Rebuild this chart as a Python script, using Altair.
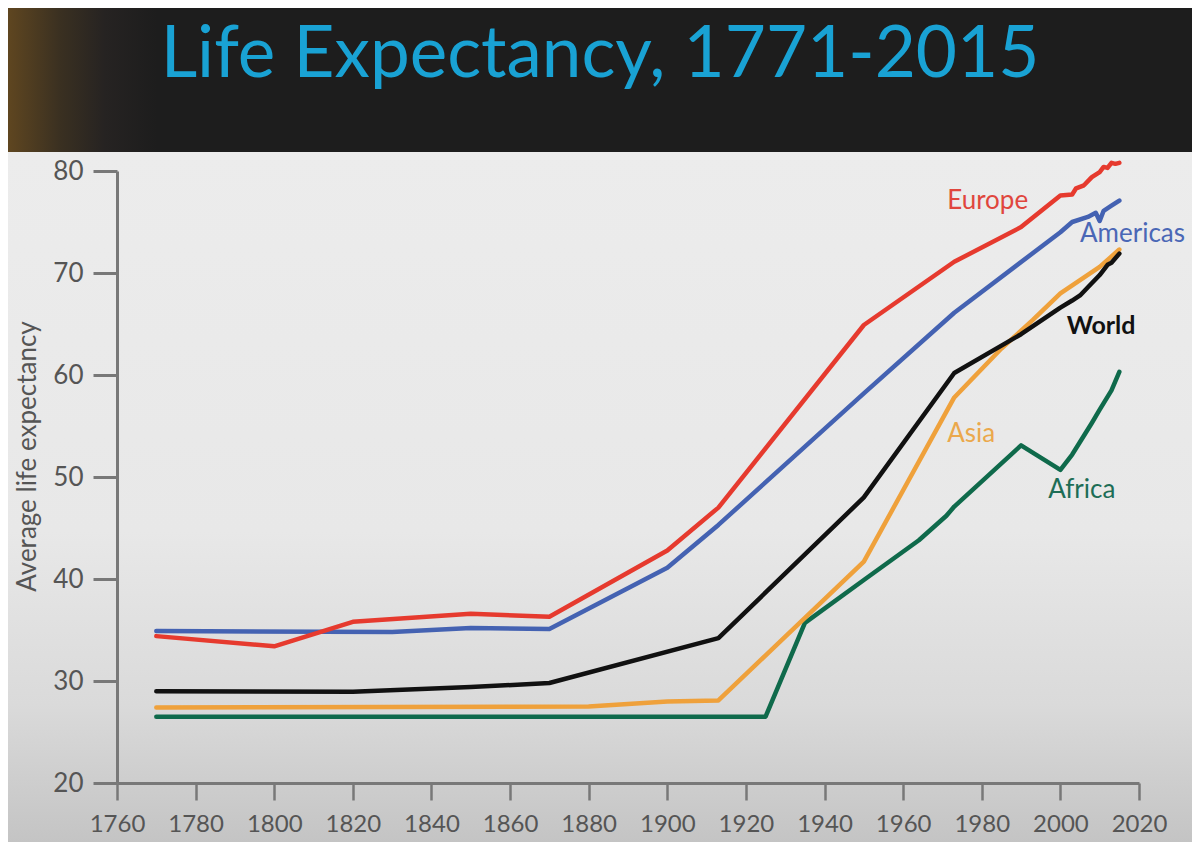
import altair as alt
import pandas as pd

# ---- data ----
europe_years = [1770, 1800, 1820, 1850, 1870, 1900, 1913, 1950, 1973, 1990, 2000, 2003, 2004, 2006, 2008, 2010, 2011, 2012, 2013, 2014, 2015]
europe_vals = [34.4, 33.4, 35.8, 36.6, 36.3, 42.8, 47.0, 64.9, 71.1, 74.5, 77.6, 77.7, 78.3, 78.6, 79.4, 79.9, 80.4, 80.3, 80.8, 80.7, 80.8]

americas_years = [1770, 1830, 1850, 1870, 1900, 1913, 1950, 1973, 2000, 2003, 2007, 2009, 2010, 2011, 2013, 2015]
americas_vals = [34.9, 34.8, 35.2, 35.1, 41.1, 45.3, 58.2, 66.1, 74.0, 75.0, 75.5, 75.9, 75.1, 76.1, 76.6, 77.1]

world_years = [1770, 1820, 1850, 1870, 1913, 1950, 1973, 1990, 2000, 2003, 2005, 2007, 2010, 2012, 2013, 2015]
world_vals = [29.0, 28.95, 29.4, 29.8, 34.2, 48.0, 60.2, 64.0, 66.6, 67.3, 67.8, 68.6, 69.8, 70.8, 71.0, 71.9]

asia_years = [1770, 1880, 1900, 1913, 1950, 1973, 1985, 1993, 2000, 2010, 2015]
asia_vals = [27.4, 27.5, 28.0, 28.1, 41.7, 57.8, 62.6, 65.4, 68.0, 70.6, 72.3]

africa_years = [1770, 1925, 1935, 1950, 1964, 1971, 1973, 1990, 2000, 2003, 2008, 2010, 2013, 2015]
africa_vals = [26.5, 26.5, 35.7, 39.9, 43.8, 46.2, 47.1, 53.1, 50.7, 52.2, 55.3, 56.6, 58.5, 60.3]

series_names = ["Africa", "Asia", "World", "Americas", "Europe"]  # drawing order
series_colors = {
    "Europe": "#e63a2e",
    "Americas": "#4462b2",
    "World": "#111111",
    "Asia": "#efa13b",
    "Africa": "#0f6a4b",
}
label_colors = {
    "Europe": "#e0463d",
    "Americas": "#4a67b6",
    "World": "#111111",
    "Asia": "#eba84c",
    "Africa": "#1d6d56",
}
series_data = {
    "Europe": (europe_years, europe_vals),
    "Americas": (americas_years, americas_vals),
    "World": (world_years, world_vals),
    "Asia": (asia_years, asia_vals),
    "Africa": (africa_years, africa_vals),
}

# label anchor points (data coordinates: year, value)
label_names = ["Europe", "Americas", "World", "Asia", "Africa"]
label_years = [1971.2, 2005.0, 2001.6, 1971.2, 1996.9]
label_vals = [76.3, 73.0, 64.0, 53.4, 47.9]

x_ticks = list(range(1760, 2021, 20))
y_ticks = list(range(20, 81, 10))

TITLE = "Life Expectancy, 1771-2015"
Y_TITLE = "Average life expectancy"

# ---- chart ----
W, H = 1022, 612
PAD = {"left": 109, "top": 163, "right": 53, "bottom": 59}

x_scale = alt.Scale(domain=[1760, 2020], nice=False, zero=False)
y_scale = alt.Scale(domain=[20, 80], nice=False, zero=False)

x_axis = alt.Axis(values=x_ticks, format="d", title=None, grid=False, zindex=2,
                  domainColor="#787878", domainWidth=3, tickColor="#787878",
                  tickWidth=2.5, tickSize=17, labelPadding=12,
                  labelOverlap=False, labelFlush=False, labelBound=False,
                  labelFont="Lato", labelFontSize=24, labelColor="#555555")
y_axis = alt.Axis(values=y_ticks, format="d", title=Y_TITLE, grid=False, zindex=2,
                  domainColor="#787878", domainWidth=3, tickColor="#787878",
                  tickWidth=3, tickSize=24, labelPadding=10,
                  labelOverlap=False, labelFlush=False,
                  labelFont="Lato", labelFontSize=26, labelColor="#555555",
                  titleFont="Lato", titleFontSize=26, titleFontWeight="normal",
                  titleColor="#555555", titleAngle=270, titleX=-90, titleY=285,
                  titleBaseline="middle", titleAlign="center")

one = pd.DataFrame({"k": [0]})

panel = alt.Chart(one).mark_rect(
    fill=alt.Gradient(
        gradient="linear",
        stops=[
            alt.GradientStop(color="#ececec", offset=0),
            alt.GradientStop(color="#e8e8e8", offset=0.55),
            alt.GradientStop(color="#dadada", offset=0.8),
            alt.GradientStop(color="#c4c4c4", offset=1),
        ],
        x1=0, x2=0, y1=0, y2=1,
    )
).encode(x=alt.value(-109), x2=alt.value(1075), y=alt.value(-19), y2=alt.value(671))

glow = alt.Chart(one).mark_rect(
    fill=alt.Gradient(
        gradient="linear",
        stops=[
            alt.GradientStop(color="#5f4620", offset=0),
            alt.GradientStop(color="#3a3021", offset=0.35),
            alt.GradientStop(color="#262322", offset=0.65),
            alt.GradientStop(color="#1d1d1d", offset=1),
        ],
        x1=0, x2=1, y1=0, y2=0,
    )
).encode(x=alt.value(-109), x2=alt.value(40), y=alt.value(-163), y2=alt.value(-19))

title = alt.Chart(pd.DataFrame({"t": [TITLE]})).mark_text(
    font="Lato", fontSize=71, color="#19a2d4", align="center", baseline="alphabetic"
).encode(x=alt.value(483), y=alt.value(-94), text="t:N")

layers = [panel, glow, title]

for name in series_names:
    yrs, vals = series_data[name]
    df = pd.DataFrame({"year": yrs, "value": vals})
    layers.append(
        alt.Chart(df).mark_line(
            color=series_colors[name], strokeWidth=4.5, strokeJoin="round", strokeCap="round"
        ).encode(
            x=alt.X("year:Q", scale=x_scale, axis=x_axis),
            y=alt.Y("value:Q", scale=y_scale, axis=y_axis),
        )
    )

for name, yr, v in zip(label_names, label_years, label_vals):
    layers.append(
        alt.Chart(pd.DataFrame({"year": [yr], "value": [v], "label": [name]})).mark_text(
            font="Lato", fontSize=26 if name != "World" else 25,
            fontWeight="bold" if name == "World" else "normal",
            color=label_colors[name], align="left", baseline="alphabetic"
        ).encode(
            x=alt.X("year:Q", scale=x_scale),
            y=alt.Y("value:Q", scale=y_scale),
            text="label:N",
        )
    )

chart = alt.layer(*layers).properties(
    width=W, height=H,
    autosize=alt.AutoSizeParams(type="none"),
    padding=PAD,
    background="#1d1d1d",
).configure_view(strokeWidth=0)

chart.save("out.html", embed_options={"renderer": "svg", "actions": False})
